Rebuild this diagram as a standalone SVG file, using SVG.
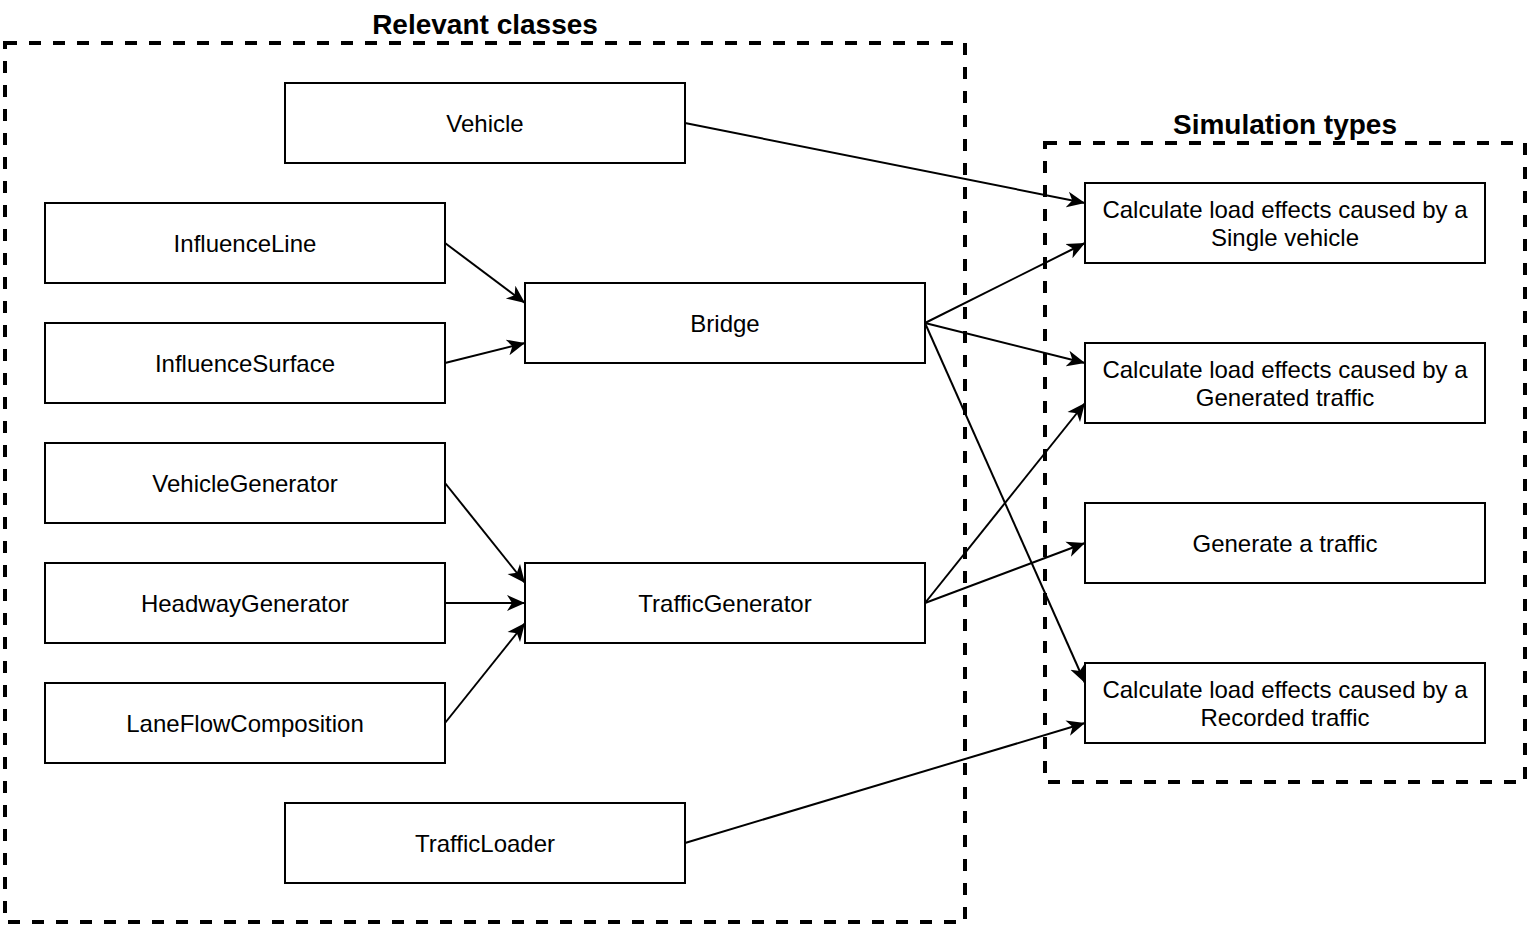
<svg xmlns="http://www.w3.org/2000/svg" width="1528" height="928" viewBox="0 0 1528 928">
<style>
.box{fill:#fff;stroke:#000;stroke-width:2}
.grp{fill:none;stroke:#000;stroke-width:4;stroke-dasharray:12 12}
.t{font-family:"Liberation Sans",Arial,sans-serif;font-size:24px;fill:#000;text-anchor:middle;dominant-baseline:central}
.title{font-family:"Liberation Sans",Arial,sans-serif;font-size:28px;font-weight:bold;fill:#000;text-anchor:middle;dominant-baseline:central}
.e{fill:none;stroke:#000;stroke-width:2;marker-end:url(#arr)}
</style>
<defs>
<marker id="arr" markerUnits="userSpaceOnUse" viewBox="0 -9 19 18" markerWidth="19" markerHeight="18" refX="18" refY="0" orient="auto">
<path d="M0,-8 L18,0 L0,8 L5,0 Z" fill="#000"/>
</marker>
</defs>
<rect width="1528" height="928" fill="#fff"/>
<g id="group-relevant">
<rect class="grp" x="5" y="43" width="960" height="879"/>
<text class="title" x="485" y="24">Relevant classes</text>
</g>
<g id="group-simulation">
<rect class="grp" x="1045" y="143" width="480" height="639"/>
<text class="title" x="1285" y="124">Simulation types</text>
</g>
<g id="connectors">
<line class="e" x1="685" y1="123" x2="1085" y2="203"/>
<line class="e" x1="445" y1="243" x2="525" y2="303"/>
<line class="e" x1="445" y1="363" x2="525" y2="343"/>
<line class="e" x1="925" y1="323" x2="1085" y2="243"/>
<line class="e" x1="925" y1="323" x2="1085" y2="363"/>
<line class="e" x1="925" y1="323" x2="1085" y2="683"/>
<line class="e" x1="445" y1="483" x2="525" y2="583"/>
<line class="e" x1="445" y1="603" x2="525" y2="603"/>
<line class="e" x1="445" y1="723" x2="525" y2="623"/>
<line class="e" x1="925" y1="603" x2="1085" y2="403"/>
<line class="e" x1="925" y1="603" x2="1085" y2="543"/>
<line class="e" x1="685" y1="843" x2="1085" y2="723"/>
</g>
<g id="node-vehicle"><rect class="box" x="285" y="83" width="400" height="80"/><text class="t" x="485" y="123">Vehicle</text></g>
<g id="node-influenceline"><rect class="box" x="45" y="203" width="400" height="80"/><text class="t" x="245" y="243">InfluenceLine</text></g>
<g id="node-influencesurface"><rect class="box" x="45" y="323" width="400" height="80"/><text class="t" x="245" y="363">InfluenceSurface</text></g>
<g id="node-bridge"><rect class="box" x="525" y="283" width="400" height="80"/><text class="t" x="725" y="323">Bridge</text></g>
<g id="node-vehiclegenerator"><rect class="box" x="45" y="443" width="400" height="80"/><text class="t" x="245" y="483">VehicleGenerator</text></g>
<g id="node-headwaygenerator"><rect class="box" x="45" y="563" width="400" height="80"/><text class="t" x="245" y="603">HeadwayGenerator</text></g>
<g id="node-laneflowcomposition"><rect class="box" x="45" y="683" width="400" height="80"/><text class="t" x="245" y="723">LaneFlowComposition</text></g>
<g id="node-trafficgenerator"><rect class="box" x="525" y="563" width="400" height="80"/><text class="t" x="725" y="603">TrafficGenerator</text></g>
<g id="node-trafficloader"><rect class="box" x="285" y="803" width="400" height="80"/><text class="t" x="485" y="843">TrafficLoader</text></g>
<g id="node-single"><rect class="box" x="1085" y="183" width="400" height="80"/><text class="t" x="1285" y="209">Calculate load effects caused by a</text><text class="t" x="1285" y="237">Single vehicle</text></g>
<g id="node-generated"><rect class="box" x="1085" y="343" width="400" height="80"/><text class="t" x="1285" y="369">Calculate load effects caused by a</text><text class="t" x="1285" y="397">Generated traffic</text></g>
<g id="node-generate"><rect class="box" x="1085" y="503" width="400" height="80"/><text class="t" x="1285" y="543">Generate a traffic</text></g>
<g id="node-recorded"><rect class="box" x="1085" y="663" width="400" height="80"/><text class="t" x="1285" y="689">Calculate load effects caused by a</text><text class="t" x="1285" y="717">Recorded traffic</text></g>
</svg>
